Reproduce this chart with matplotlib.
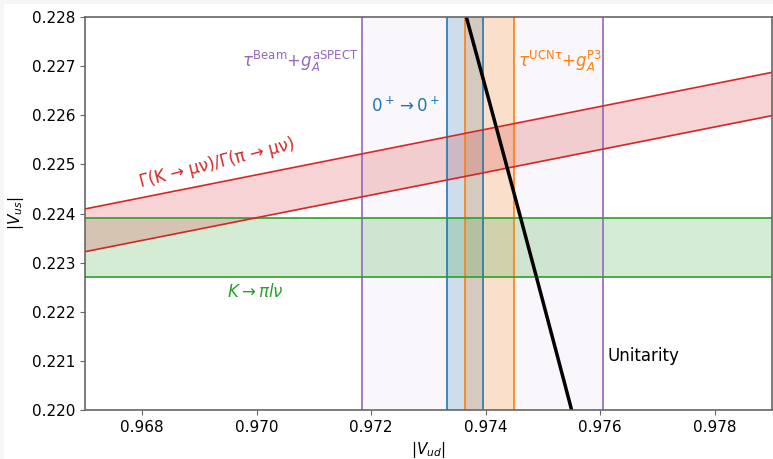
import matplotlib
matplotlib.use("Agg")
import matplotlib.pyplot as plt
import numpy as np
from matplotlib.patches import Rectangle

# bandas verticales en |Vud| (limites inferior, superior)
vud_beam = [0.97184, 0.97604]      # tau^Beam + g_A^aSPECT
vud_superallowed = [0.97332, 0.97395]  # 0+ -> 0+
vud_ucn = [0.97364, 0.97449]       # tau^UCNtau + g_A^P3

# banda horizontal en |Vus| (K -> pi l nu)
vus_kl3 = [0.22270, 0.22390]

# cociente |Vus|/|Vud| de Gamma(K->mu nu)/Gamma(pi->mu nu)
ratio_kl2 = [0.23084, 0.23174]

XLIM = (0.967, 0.979)
YLIM = (0.220, 0.228)

PURPLE, BLUE, ORANGE, GREEN, RED = "#9467bd", "#1f77b4", "#ff7f0e", "#2ca02c", "#d62728"

plt.rcParams["font.size"] = 11
fig = plt.figure(figsize=(7.73, 4.59), dpi=100)
fig.patch.set_facecolor("#f6f6f6")
fig.add_artist(Rectangle((4 / 773, 0), 1, 1 - 4 / 459, transform=fig.transFigure,
                         facecolor="white", edgecolor="none", zorder=-10))
ax = fig.add_axes([85 / 773, 1 - 410 / 459, 687 / 773, 393 / 459])

# bandas verticales
ax.axvspan(*vud_beam, color=PURPLE, alpha=0.05, lw=0)
for v in vud_beam:
    ax.axvline(v, color=PURPLE, lw=1.2)
ax.axvspan(*vud_superallowed, color=BLUE, alpha=0.2, lw=0)
for v in vud_superallowed:
    ax.axvline(v, color=BLUE, lw=1.2)
ax.axvspan(*vud_ucn, color=ORANGE, alpha=0.2, lw=0)
for v in vud_ucn:
    ax.axvline(v, color=ORANGE, lw=1.2)

# K -> pi l nu
ax.axhspan(*vus_kl3, color=GREEN, alpha=0.2, lw=0)
for v in vus_kl3:
    ax.axhline(v, color=GREEN, lw=1.2)

# Kl2 / pil2
xs = np.linspace(*XLIM, 50)
lo, hi = xs * ratio_kl2[0], xs * ratio_kl2[1]
ax.fill_between(xs, lo, hi, color=RED, alpha=0.2, lw=0)
ax.plot(xs, lo, color=RED, lw=1.2)
ax.plot(xs, hi, color=RED, lw=1.2)

# unitaridad
xu = np.linspace(0.9730, 0.9760, 200)
ax.plot(xu, np.sqrt(1 - xu**2), color="black", lw=2.5)

ax.text(0.97178, 0.22709, r"$\tau^{\rm Beam}$+$g_A^{\rm aSPECT}$", color=PURPLE,
        ha="right", va="center", fontsize=12)
ax.text(0.97321, 0.22618, r"$0^+\to0^+$", color=BLUE, ha="right", va="center", fontsize=12)
ax.text(0.97456, 0.22710, r"$\tau^{\rm UCN\tau}$+$g_A^{\rm P3}$", color=ORANGE,
        ha="left", va="center", fontsize=12)
ax.text(0.96931, 0.22503, "Γ(K → μν)/Γ(π → μν)", color=RED, ha="center", va="center",
        rotation=14, fontsize=12)
ax.text(0.96997, 0.22241, r"$K\to\pi l\nu$", color=GREEN, ha="center", va="center", fontsize=12)
ax.text(0.97612, 0.22110, "Unitarity", color="black", ha="left", va="center", fontsize=12)

ax.set_xlim(*XLIM)
ax.set_ylim(*YLIM)
ax.set_xticks(np.arange(0.968, 0.9791, 0.002))
ax.set_yticks(np.arange(0.220, 0.2281, 0.001))
ax.xaxis.set_major_formatter(plt.FormatStrFormatter("%.3f"))
ax.yaxis.set_major_formatter(plt.FormatStrFormatter("%.3f"))
ax.set_xlabel(r"$|V_{ud}|$")
ax.set_ylabel(r"$|V_{us}|$")
for s in ax.spines.values():
    s.set_color("#666666")
    s.set_linewidth(1.2)
ax.tick_params(color="#666666")

fig.savefig("out.png", dpi=100)
